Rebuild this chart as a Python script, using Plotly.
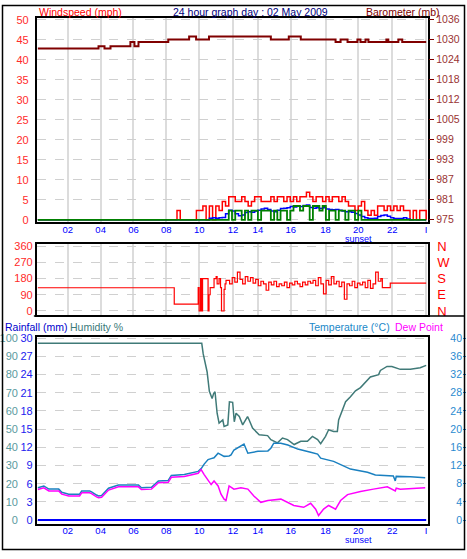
import numpy as np
import plotly.graph_objects as go

W, H = 467, 559
FONT = "Liberation Sans, Arial, sans-serif"

# ---------------- data ----------------
# x axis in display hours (source axis is slightly non-uniform)
hour_tick_pos = [1.85, 3.88, 5.91, 7.94, 9.97, 12.06, 13.6, 15.63, 17.78, 19.8, 21.9, 24.0]
hour_tick_labels = ['02', '04', '06', '08', '10', '12', '14', '16', '18', '20', '22', 'I']
sunset_hour = 19.8

# barometer (mb)
baro_t = [0, 3.75, 4.12, 4.49, 5.72, 5.97, 6.22, 8.06, 9.35, 9.78, 10.58, 14.4, 15.51, 16.25,
          18.4, 18.71, 19.14, 19.75, 19.94, 20.25, 20.43, 21.54, 21.66, 22.28, 22.52, 24.0]
baro_mb = [1027.2, 1027.9, 1027.2, 1027.9, 1029.2, 1027.9, 1029.2, 1030.0, 1030.9, 1030.0, 1030.9,
           1030.0, 1030.9, 1030.0, 1029.2, 1030.0, 1029.2, 1030.0, 1029.2, 1030.0, 1029.2, 1030.0,
           1029.2, 1030.0, 1029.2, 1029.2]
baro_tick_vals = [975, 981.1, 987.2, 993.3, 999.4, 1005.5, 1011.6, 1017.7, 1023.8, 1029.9, 1036.0]
baro_tick_labels = ['975', '981', '987', '993', '999', '1005', '1012', '1018', '1024', '1030', '1036']

# wind (mph), samples every 0.2 h from 08:00, plus a zero at 00:00
wind_start, wind_step = 8.0, 0.2
gust = [0, 0, 0, 2.3, 0, 0, 0, 0, 0,
        2.3, 2.3, 3.45, 0, 3.45, 0, 3.45, 2.3, 4.6, 3.45, 5.75,
        5.75, 4.6, 4.6, 5.75, 4.6, 3.45, 4.6, 5.75, 5.75, 4.6,
        4.6, 4.6, 5.75, 4.6, 5.75, 5.75, 4.6, 5.75, 4.6, 5.75,
        4.6, 5.75, 5.75, 6.9, 5.75, 4.6, 5.75, 5.75, 4.6, 5.75,
        4.6, 5.75, 5.75, 4.6, 5.75, 4.6, 3.45, 3.45, 2.3, 3.45,
        4.6, 2.3, 1.15, 2.3, 1.15, 3.45, 3.45, 2.3, 3.45, 2.3,
        3.45, 2.3, 3.45, 2.3, 2.3, 0, 2.3, 0, 2.3, 2.3,
        0]
speed = [0] * 19 + [2.3, 0, 2.3, 2.3, 0, 2.3, 0, 2.3, 2.3, 0,
                    2.3, 2.3, 2.3, 0, 2.3, 0, 2.3, 2.3, 0, 2.3,
                    3.45, 3.45, 2.3, 3.45, 3.45, 0, 3.45, 3.45, 2.3, 3.45,
                    0, 2.3, 2.3, 0, 2.3, 2.3, 0, 2.3, 2.3, 0,
                    2.3, 0] + [0] * 20
avg = [0] * 13 + [0.4, 0.5, 0.4, 0.5, 0.6,
                  1.5, 2.4, 2.2, 1.5, 1.0, 1.2, 1.8, 2.0, 1.9, 2.2,
                  2.4, 2.7, 2.9, 2.6, 2.2, 2.0, 2.4, 2.8, 2.9, 3.0,
                  3.3, 3.2, 3.5, 3.3, 3.6, 3.7, 3.1, 2.9, 3.0, 2.8,
                  3.0, 2.7, 2.6, 2.5, 2.6, 2.4, 2.2, 2.0, 2.0, 1.9,
                  1.6, 1.2, 0.8, 0.5, 0.3, 0.3, 0.4, 0.8, 1.1, 1.2,
                  0.9, 0.5, 0.3, 0.3, 0.3, 0.5, 0.2] + [0] * 6

# wind direction (degrees)
dir_early_t = [0, 8.43, 9.91, 9.97, 10.06, 10.12, 10.18, 10.52, 10.58, 10.65, 10.89, 11.02,
               11.08, 11.2, 11.29, 11.35, 11.51, 11.57, 11.63]
dir_early_v = [129, 38, 130, 0, 180, 0, 180, 0, 90, 130, 180, 190, 150, 180, 130, 0, 120, 150, 170]
dir_noisy_start, dir_noisy_end = 11.69, 21.2
dir_noisy_v = [170, 150, 185, 160, 215, 175, 150, 190, 165, 185, 155, 175, 140, 165, 150, 115,
               160, 145, 165, 135, 150, 140, 160, 130, 155, 145, 165, 150, 135, 160, 145, 165,
               155, 170, 140, 185, 150, 95, 170, 145, 190, 150, 165, 135, 160, 65, 150, 140,
               165, 130, 155, 145, 160, 130, 170, 125, 150, 215, 165, 180]
dir_late_t = [21.29, 21.78, 24.0]
dir_late_v = [130, 155, 155]
dir_tick_vals = [0, 90, 180, 270, 360]
dir_tick_labels = ['N', 'E', 'S', 'W', 'N']

# temperature / dew point (°C)
temp_t = [0, 0.37, 0.68, 1.29, 1.48, 1.91, 2.58, 2.71, 3.2, 3.32, 3.63, 3.75, 3.94, 4.37, 4.98,
          6.22, 6.4, 7.02, 7.45, 8.06, 8.25, 9.05, 9.91, 10.09, 10.28, 10.52, 10.71, 10.89, 11.14,
          11.32, 11.51, 11.82, 11.94, 12.12, 12.55, 12.74, 12.98, 13.35, 13.6, 14.22, 14.4, 14.58,
          15.02, 15.45, 16.06, 16.86, 17.29, 17.48, 18.28, 19.32, 20.37, 20.86, 21.97, 22.09, 22.15,
          23.02, 23.94]
temp_c = [7.1, 7.5, 6.8, 6.8, 6.1, 5.7, 5.7, 6.4, 6.4, 6.2, 5.5, 5.3, 5.4, 7.0, 7.7,
          7.7, 7.1, 7.2, 8.6, 8.7, 9.8, 10.0, 10.7, 11.3, 12.3, 13.3, 13.5, 13.7, 14.7,
          14.3, 14.0, 14.1, 14.3, 15.4, 16.3, 16.7, 14.7, 15.0, 15.1, 15.2, 15.8, 16.9,
          16.9, 16.5, 15.6, 14.9, 14.5, 13.6, 12.9, 11.2, 10.5, 9.9, 9.7, 8.6, 9.6,
          9.5, 9.3]
dew_t = [0, 0.37, 0.68, 1.29, 1.48, 1.91, 2.58, 2.71, 3.2, 3.32, 3.63, 3.75, 3.94, 4.37, 4.98,
         6.22, 6.4, 7.02, 7.45, 8.06, 8.25, 9.05, 9.91, 10.09, 10.28, 10.52, 10.71, 10.89, 11.14,
         11.32, 11.51, 11.63, 11.82, 12.12, 12.55, 12.98, 13.35, 13.78, 14.22, 15.02, 15.45, 15.82,
         16.43, 16.86, 17.17, 17.35, 17.66, 17.97, 18.4, 18.71, 19.14, 19.94, 20.74, 21.6, 22.09,
         22.15, 22.4, 23.45, 23.94]
dew_c = [6.7, 7.1, 6.4, 6.4, 5.7, 5.3, 5.3, 6.0, 6.0, 5.8, 5.1, 4.9, 5.0, 6.6, 7.3,
         7.3, 6.7, 6.8, 8.2, 8.3, 9.4, 9.6, 10.3, 11.1, 10.0, 8.7, 7.8, 8.6, 7.5,
         5.7, 4.6, 4.3, 7.5, 6.8, 7.1, 6.8, 5.3, 3.9, 4.3, 4.6, 3.9, 3.2,
         2.8, 3.7, 2.4, 1.0, 2.4, 3.2, 2.4, 4.3, 5.6, 6.3, 6.8, 7.3, 6.4,
         7.0, 6.8, 7.0, 7.1]

# humidity (%)
hum_t = [0, 10.13, 10.22, 10.34, 10.46, 10.6, 10.77, 10.87, 10.95, 11.08, 11.2, 11.43, 11.51,
         11.74, 11.84, 12.04, 12.14, 12.25, 12.45, 12.66, 12.96, 13.06, 13.27, 13.68, 14.2, 14.4,
         14.81, 15.12, 15.43, 15.84, 16.25, 16.66, 16.97, 17.29, 17.48, 17.78, 17.97, 18.28, 18.51,
         18.59, 18.81, 19.02, 19.32, 19.63, 19.94, 20.25, 20.55, 21.06, 21.17, 21.58, 21.88, 22.4,
         23.02, 23.63, 24.0]
hum_pct = [97.1, 97.1, 91.3, 87, 81.5, 70.7, 66.8, 69.6, 70.5, 58.7, 53.3, 55, 51.4,
           52.3, 65, 64.7, 54, 58.7, 56.9, 52.3, 56.9, 55, 50.5, 46.9, 46.4, 44.2,
           42.4, 45.1, 44.2, 41.5, 43.3, 43.3, 46, 44.2, 42, 46, 49.6, 48.7, 48.7,
           55, 59.6, 65, 67.8, 71, 72.8, 75.9, 78.6, 79.9, 82.2, 84.4, 84.4, 82.8,
           82.8, 83.7, 85]

# rainfall (mm)
rain_t = [0, 24.0]
rain_mm = [0, 0]

# ---------------- helpers (layout only) ----------------
def px_x(px):
    return px / W


def px_y(py):
    return 1 - py / H


X_DOMAIN = [px_x(35), px_x(428)]
X_RANGE = [-0.0615, 24.123]

wind_t = [0.0] + [round(wind_start + wind_step * i, 2) for i in range(len(gust))]
gust_full = [0] + gust
speed_full = [0] + speed
avg_full = [0] + avg
dir_noisy_t = list(np.linspace(dir_noisy_start, dir_noisy_end, len(dir_noisy_v)))
dir_t = dir_early_t + dir_noisy_t + dir_late_t
dir_v = dir_early_v + dir_noisy_v + dir_late_v

fig = go.Figure()

# top panel
fig.add_trace(go.Scatter(x=baro_t, y=baro_mb, mode='lines', line=dict(color='#800000', width=2, shape='hv'),
                         xaxis='x', yaxis='y2', hoverinfo='skip'))
fig.add_trace(go.Scatter(x=wind_t, y=gust_full, mode='lines', line=dict(color='#ff0000', width=1.5, shape='hv'),
                         xaxis='x', yaxis='y', hoverinfo='skip'))
fig.add_trace(go.Scatter(x=wind_t, y=avg_full, mode='lines', line=dict(color='#0000ff', width=1.5, shape='hv'),
                         xaxis='x', yaxis='y', hoverinfo='skip'))
fig.add_trace(go.Scatter(x=wind_t, y=speed_full, mode='lines', line=dict(color='#008000', width=1.8, shape='hv'),
                         xaxis='x', yaxis='y', hoverinfo='skip'))
# middle panel
fig.add_trace(go.Scatter(x=dir_t, y=dir_v, mode='lines', line=dict(color='#ff0000', width=1.2, shape='hv'),
                         xaxis='x2', yaxis='y3', hoverinfo='skip'))
fig.add_trace(go.Scatter(x=[0], y=[0], mode='markers', marker=dict(opacity=0),
                         xaxis='x2', yaxis='y4', hoverinfo='skip'))
# bottom panel
fig.add_trace(go.Scatter(x=rain_t, y=rain_mm, mode='lines', line=dict(color='#0000ff', width=2),
                         xaxis='x3', yaxis='y5', hoverinfo='skip'))
fig.add_trace(go.Scatter(x=hum_t, y=hum_pct, mode='lines', line=dict(color='#407a78', width=1.5),
                         xaxis='x3', yaxis='y6', hoverinfo='skip'))
fig.add_trace(go.Scatter(x=temp_t, y=temp_c, mode='lines', line=dict(color='#1a80c0', width=1.5),
                         xaxis='x3', yaxis='y7', hoverinfo='skip'))
fig.add_trace(go.Scatter(x=dew_t, y=dew_c, mode='lines', line=dict(color='#ff00ff', width=1.5),
                         xaxis='x3', yaxis='y7', hoverinfo='skip'))

frame = dict(showline=True, mirror=True, linecolor='black', linewidth=2, zeroline=False)
xcommon = dict(domain=X_DOMAIN, range=X_RANGE, tickmode='array', tickvals=hour_tick_pos,
               ticktext=hour_tick_labels, ticks='', tickfont=dict(family=FONT, size=9.5, color='#0000ff'),
               ticklabelstandoff=-3, gridcolor='#dcdcdc', gridwidth=2, **frame)
ydash = dict(showgrid=True, gridcolor='#d0d0d0', griddash='dash', gridwidth=1)

TOP = [px_y(221), px_y(13)]
MID = [px_y(315), px_y(243)]
BOT = [px_y(527), px_y(337)]

fig.update_layout(
    width=W, height=H, margin=dict(l=0, r=0, t=0, b=0),
    paper_bgcolor='white', plot_bgcolor='white', showlegend=False,
    font=dict(family=FONT, size=11),
    xaxis=dict(anchor='y', showgrid=True, **xcommon),
    xaxis2=dict(anchor='y3', showgrid=True, showticklabels=False, **xcommon),
    xaxis3=dict(anchor='y5', showgrid=False, **xcommon),
    yaxis=dict(domain=TOP, range=[-0.664, 50.49], tickvals=list(range(0, 51, 5)), ticks='',
               tickfont=dict(family=FONT, size=11, color='#ff2a2a'), ticklabelstandoff=4, **ydash, **frame),
    yaxis2=dict(overlaying='y', side='right', anchor='x', range=[974.19, 1036.6], tickvals=baro_tick_vals,
                ticktext=baro_tick_labels, ticks='outside', ticklen=5, tickcolor='#800000',
                tickfont=dict(family=FONT, size=10.5, color='#993333'), showgrid=False, zeroline=False,
                showline=False),
    yaxis3=dict(domain=MID, range=[-21.8, 370.9], tickvals=dir_tick_vals, ticks='',
                tickfont=dict(family=FONT, size=11, color='#ff2a2a'), **ydash, **frame),
    yaxis4=dict(overlaying='y3', side='right', anchor='x2', range=[-21.8, 370.9], tickvals=dir_tick_vals,
                ticktext=dir_tick_labels, ticks='', tickfont=dict(family=FONT, size=13, color='#ff0000'),
                showgrid=False, zeroline=False, showline=False, ticklabelstandoff=8),
    yaxis5=dict(domain=BOT, range=[-0.568, 30.243], tickvals=list(range(0, 31, 3)), ticks='',
                tickfont=dict(family=FONT, size=11, color='#2222ee'), **ydash, **frame),
    yaxis6=dict(overlaying='y5', anchor='free', position=px_x(16), side='left', range=[-1.89, 100.81],
                tickvals=list(range(0, 101, 10)), ticks='', tickfont=dict(family=FONT, size=11, color='#5a9a9e'),
                showgrid=False, zeroline=False, showline=False),
    yaxis7=dict(overlaying='y5', anchor='free', position=px_x(462), side='left', range=[-0.757, 40.324],
                tickvals=list(range(0, 41, 4)), ticks='inside', ticklen=3, tickcolor='#2a8ad0',
                tickfont=dict(family=FONT, size=10.5, color='#2a8ad0'), showgrid=False, zeroline=False,
                showline=False),
)

ann = [
    dict(text='Windspeed (mph)', x=px_x(35), y=px_y(7), xanchor='left', color='#ff0000'),
    dict(text='24 hour graph day : 02 May 2009', x=px_x(250), y=px_y(7), xanchor='center', color='#000080'),
    dict(text='Barometer (mb)', x=px_x(442), y=px_y(7), xanchor='right', color='#800000'),
    dict(text='Rainfall (mm)', x=px_x(1), y=px_y(327), xanchor='left', color='#0000cc'),
    dict(text='Humidity %', x=px_x(66), y=px_y(327), xanchor='left', color='#3a7a7a'),
    dict(text='Temperature (°C)', x=px_x(392), y=px_y(327), xanchor='right', color='#1a88c8'),
    dict(text='Dew Point', x=px_x(393), y=px_y(327), xanchor='left', color='#ff00ff'),
]
annotations = []
for a in ann:
    annotations.append(dict(text=a['text'], x=a['x'], y=a['y'], xref='paper', yref='paper',
                            xanchor=a['xanchor'], yanchor='middle', showarrow=False,
                            font=dict(family=FONT, size=10.5, color=a['color'])))
for yy in (237.5, 543.5):
    annotations.append(dict(text='sunset', x=sunset_hour, xref='x', y=px_y(yy), yref='paper',
                            xanchor='center', yanchor='middle', showarrow=False,
                            font=dict(family=FONT, size=9, color='#0000ff')))
fig.update_layout(annotations=annotations)

shapes = [
    dict(type='rect', xref='paper', yref='paper', x0=px_x(0.5), x1=px_x(464.5), y0=px_y(553.5), y1=px_y(0.5),
         line=dict(color='black', width=1.5)),
    dict(type='line', xref='paper', yref='paper', x0=px_x(32), x1=px_x(464.5), y0=px_y(316), y1=px_y(316),
         line=dict(color='black', width=1.5)),
]
fig.update_layout(shapes=shapes)

fig.write_html("out.html", config={'displayModeBar': False},
               post_script="document.body.style.margin='0';document.body.style.overflow='hidden';")
